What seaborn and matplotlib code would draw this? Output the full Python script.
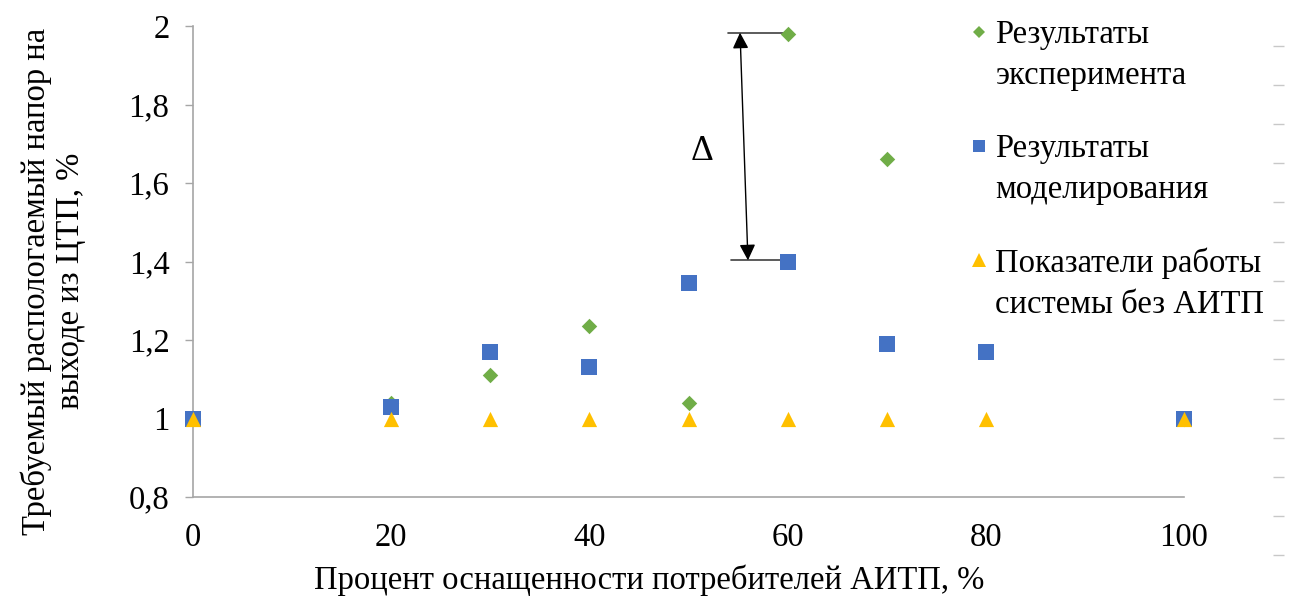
import numpy as np
import pandas as pd
import seaborn as sns
import matplotlib
matplotlib.use("Agg")
import matplotlib.pyplot as plt
from matplotlib.lines import Line2D

# ---- data ----
x_exp = [0, 20, 30, 40, 50, 60, 70, 100]
y_exp = [1.0, 1.04, 1.11, 1.235, 1.04, 1.98, 1.66, 1.0]

x_mod = [0, 20, 30, 40, 50, 60, 70, 80, 100]
y_mod = [1.0, 1.03, 1.17, 1.13, 1.345, 1.40, 1.19, 1.17, 1.0]

x_base = [0, 20, 30, 40, 50, 60, 70, 80, 100]
y_base = [1.0, 1.0, 1.0, 1.0, 1.0, 1.0, 1.0, 1.0, 1.0]

series_names = ["Результаты\nэксперимента",
                "Результаты\nмоделирования",
                "Показатели работы\nсистемы без АИТП"]
y_ticks = [0.8, 1.0, 1.2, 1.4, 1.6, 1.8, 2.0]
y_tick_labels = ["0,8", "1", "1,2", "1,4", "1,6", "1,8", "2"]
x_ticks = [0, 20, 40, 60, 80, 100]
x_tick_labels = ["0", "20", "40", "60", "80", "100"]
x_label = "Процент оснащенности потребителей АИТП, %"
y_label = "Требуемый распологаемый напор на\nвыходе из ЦТП, %"
delta_label = "Δ"

# ---- style ----
sns.set_theme(style="white")
plt.rcParams["font.family"] = ["Liberation Serif", "DejaVu Serif"]
FS = 23.5

W, H = 1291, 601
fig = plt.figure(figsize=(W / 100, H / 100), dpi=100)
ax = fig.add_axes([193 / W, 1 - 497 / H, 991 / W, 471 / H])

c_exp, c_mod, c_base = "#70AD47", "#4472C4", "#FFC000"

df_exp = pd.DataFrame({"x": x_exp, "y": y_exp})
df_mod = pd.DataFrame({"x": x_mod, "y": y_mod})
df_base = pd.DataFrame({"x": x_base, "y": y_base})

sns.scatterplot(data=df_exp, x="x", y="y", marker="D", s=62, color=c_exp,
                linewidth=0, ax=ax, zorder=3, clip_on=False)
sns.scatterplot(data=df_mod, x="x", y="y", marker="s", s=118, color=c_mod,
                linewidth=0, ax=ax, zorder=4, clip_on=False)
sns.scatterplot(data=df_base, x="x", y="y", marker="^", s=120, color=c_base,
                linewidth=0, ax=ax, zorder=5, clip_on=False)

ax.set_xlim(0, 100)
ax.set_ylim(0.8, 2.0)
ax.set_xticks(x_ticks)
ax.set_xticklabels(x_tick_labels)
ax.set_yticks(y_ticks)
ax.set_yticklabels(y_tick_labels)
ax.tick_params(axis="y", length=6, width=1, color="#A6A6A6", pad=11,
               labelsize=FS, labelcolor="black", direction="out", left=True)
ax.tick_params(axis="x", length=0, pad=18, labelsize=FS, labelcolor="black")
for s in ["top", "right"]:
    ax.spines[s].set_visible(False)
for s in ["left", "bottom"]:
    ax.spines[s].set_color("#A6A6A6")
    ax.spines[s].set_linewidth(1.2)
ax.grid(False)

ax.set_xlabel(x_label, fontsize=FS, color="black")
ax.xaxis.set_label_coords((649 - 193) / 991, (497 - 565) / 471)
ax.set_ylabel(y_label, fontsize=FS, color="black", linespacing=1.15)
ax.yaxis.set_label_coords((86 - 193) / 991, (497 - 281) / 471)

# ---- delta annotation ----
i60e = x_exp.index(60)
i60m = x_mod.index(60)
y_top = y_exp[i60e]
y_bot = y_mod[i60m]
ax.plot([54.0, 59.8], [y_top + 0.003, y_top + 0.003], color="#404040", lw=1.2, zorder=2)
ax.plot([54.3, 60.0], [y_bot + 0.003, y_bot + 0.003], color="#404040", lw=1.2, zorder=2)
ax.annotate("", xy=(55.2, y_top + 0.003), xytext=(56.0, y_bot + 0.003),
            arrowprops=dict(arrowstyle="<|-|>", color="black", lw=1.0,
                            mutation_scale=24, shrinkA=0, shrinkB=0))
ax.text(51.4, 1.68, delta_label, fontsize=FS + 2, ha="center", va="center",
        color="black")

# ---- legend ----
handles = [
    Line2D([], [], marker="D", linestyle="", color=c_exp, markersize=6.2, markeredgewidth=0),
    Line2D([], [], marker="s", linestyle="", color=c_mod, markersize=8.8, markeredgewidth=0),
    Line2D([], [], marker="^", linestyle="", color=c_base, markersize=9.5, markeredgewidth=0),
]
leg = ax.legend(handles, series_names, loc="upper left",
                bbox_to_anchor=(971 / W, 1 - 19 / H),
                bbox_transform=fig.transFigure, frameon=False,
                fontsize=FS, handlelength=0.5, handletextpad=0.25,
                borderpad=0, borderaxespad=0, labelspacing=1.3)
for t in leg.get_texts():
    t.set_linespacing(1.45)
    t.set_color("black")
fig.canvas.draw()
for h in leg.legend_handles:
    yd = np.asarray(h.get_ydata(), dtype=float)
    h.set_ydata(yd + 17)

# ---- decorative right-side tick marks ----
ax_r = fig.add_axes([1273 / W, 0.0, 0.0001, 1 - 26 / H])
ax_r.set_ylim(1 - (601 - 418) / 392.5, 2.0)
ax_r.set_xlim(0, 1)
ax_r.set_yticks(np.arange(0.65, 1.96, 0.1))
ax_r.set_yticklabels([])
ax_r.set_xticks([])
ax_r.tick_params(axis="y", length=8, width=1, color="#C8C8C8", direction="in",
                 left=True, right=False)
for s in ax_r.spines.values():
    s.set_visible(False)
ax_r.patch.set_visible(False)

fig.savefig("out.png", dpi=100)
